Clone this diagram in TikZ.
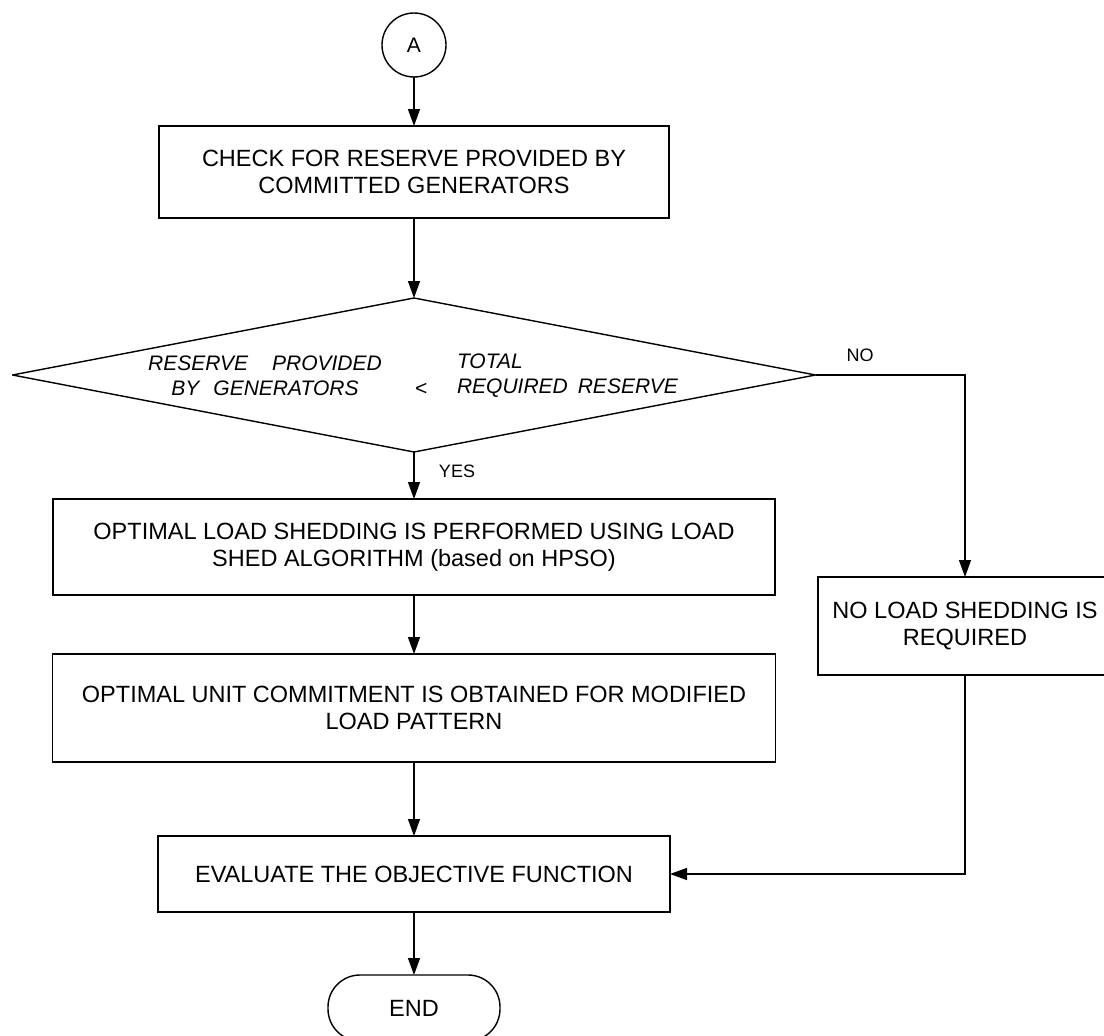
\documentclass[tikz,border=0pt]{standalone}
\usepackage{fontspec}
\setmainfont{Liberation Sans}
\usetikzlibrary{shapes.geometric,arrows.meta}
\begin{document}
\begin{tikzpicture}[x=1pt,y=-1pt,
  every node/.style={inner sep=0pt,outer sep=0pt},
  flowbox/.style={draw,line width=1.4pt,align=center,font=\fontsize{23.5}{27}\selectfont},
  arr/.style={line width=1.4pt,-{Triangle[length=17pt,width=12pt]}},
  lbl/.style={font=\fontsize{18}{21}\selectfont},
  dtext/.style={font=\fontsize{21}{25}\selectfont\itshape}]
\useasboundingbox (0,0) rectangle (1104,1036);
\clip (0,0) rectangle (1104,1036);
\fill[white] (0,0) rectangle (1104,1036);
\node[draw,circle,line width=1.4pt,minimum size=64pt,font=\fontsize{21}{25}\selectfont] (a) at (414,45) {A};
\node[flowbox,minimum width=510pt,minimum height=92pt] (b1) at (414,172) {CHECK FOR RESERVE PROVIDED BY\\COMMITTED GENERATORS};
\node[draw,diamond,line width=1.4pt,line join=round,minimum width=803pt,minimum height=154pt] (d) at (414,375) {};
\node[dtext,align=center] (t1) at (265,376) {RESERVE\hspace{24pt}PROVIDED\\BY\hspace{14pt}GENERATORS};
\node[dtext] (lt) at (421,389) {<};
\node[dtext,align=left,anchor=west] (t2) at (457,376) {TOTAL\\REQUIRED\hspace{10pt}RESERVE};
\node[flowbox,minimum width=722pt,minimum height=96pt] (b2) at (414,547) {OPTIMAL LOAD SHEDDING IS PERFORMED USING LOAD\\SHED ALGORITHM (based on HPSO)};
\node[flowbox,minimum width=723pt,minimum height=108pt] (b3) at (414,708) {OPTIMAL UNIT COMMITMENT IS OBTAINED FOR MODIFIED\\LOAD PATTERN};
\node[flowbox,minimum width=512pt,minimum height=76pt] (b4) at (414,874) {EVALUATE THE OBJECTIVE FUNCTION};
\node[flowbox,minimum width=294pt,minimum height=98pt] (nb) at (965,626) {NO LOAD SHEDDING IS\\REQUIRED};
\node[draw,line width=1.4pt,rounded corners=32pt,minimum width=172pt,minimum height=66pt,font=\fontsize{23.5}{27}\selectfont] (e) at (414,1008) {END};
\node[lbl] (yes) at (457,471) {YES};
\node[lbl] (no) at (860,355) {NO};
\draw[arr] (a) -- (b1);
\draw[arr] (b1) -- (d.north);
\draw[arr] (d.south) -- (b2);
\draw[arr] (b2) -- (b3);
\draw[arr] (b3) -- (b4);
\draw[arr] (b4) -- (e);
\draw[arr] (d.east) -| (nb.north);
\draw[arr] (nb.south) |- (b4.east);
\end{tikzpicture}
\end{document}
